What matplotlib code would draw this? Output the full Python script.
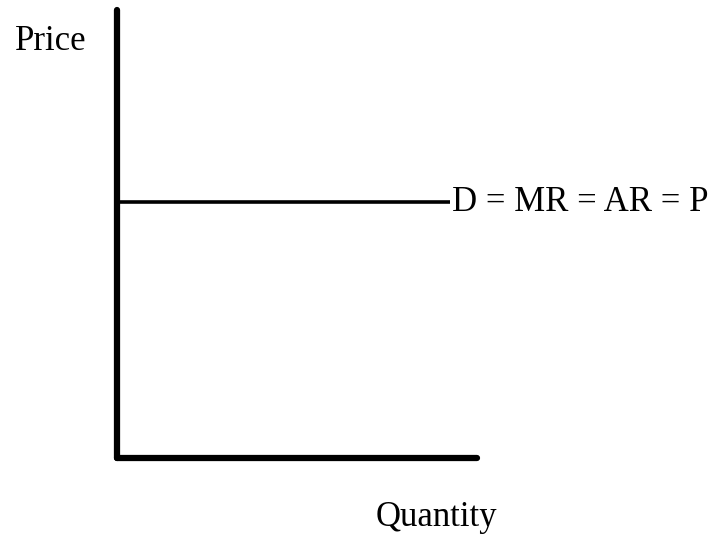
import matplotlib
matplotlib.use("Agg")
import matplotlib.pyplot as plt

# Data (conceptual units)
quantity_range = [0, 10]       # horizontal axis extent
price_range = [0, 10]          # vertical axis extent
demand_price = 5.71            # perfectly elastic demand level
demand_quantity = [0, 9.25]    # extent of demand line
labels = {"x": "Quantity", "y": "Price", "demand": "D = MR = AR = P"}

W, H = 712, 537
fig = plt.figure(figsize=(W / 100, H / 100), dpi=100)
ax = fig.add_axes([117 / W, (H - 458) / H, (477 - 117) / W, (458 - 10) / H])
ax.set_xlim(quantity_range)
ax.set_ylim(price_range)
ax.axis("off")

font = dict(family="Liberation Serif", color="black")

# Axes lines
ax.plot([quantity_range[0], quantity_range[0]], price_range, color="black", lw=4.5,
        solid_capstyle="round", clip_on=False)
ax.plot(quantity_range, [price_range[0], price_range[0]], color="black", lw=4.5,
        solid_capstyle="round", clip_on=False)

# Demand line
ax.plot(demand_quantity, [demand_price, demand_price], color="black", lw=2.6,
        solid_capstyle="butt", clip_on=False)
ax.text(demand_quantity[1] + 0.06, demand_price, labels["demand"], fontsize=25,
        ha="left", va="center", **font)

fig.text(15 / W, 1 - 42 / H, labels["y"], fontsize=25, ha="left", va="center", **font)
fig.text(436 / W, 1 - 517 / H, labels["x"], fontsize=25, ha="center", va="center", **font)

fig.savefig("out.png", dpi=100, facecolor="white")
